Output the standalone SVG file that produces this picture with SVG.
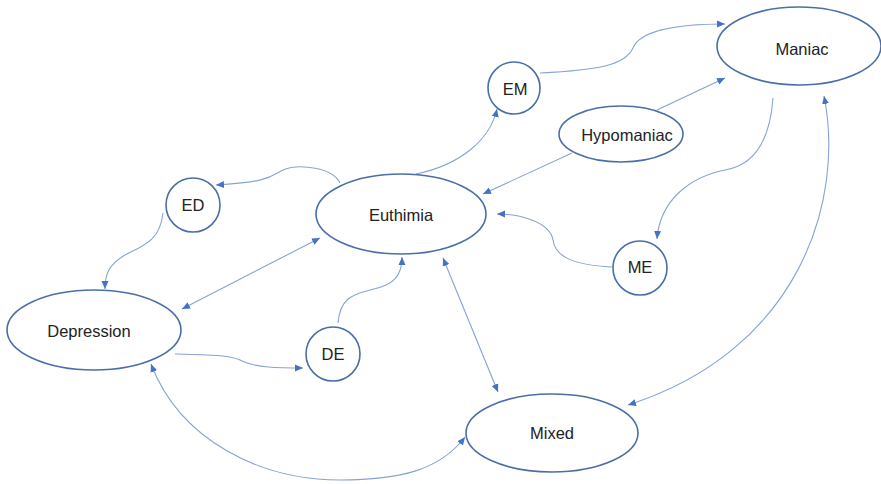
<svg xmlns="http://www.w3.org/2000/svg" width="881" height="484" viewBox="0 0 881 484">
<style>
.node{fill:#fff;stroke:#4a6ea8;stroke-width:1.6}
.lbl{font-family:"Liberation Sans",Arial,sans-serif;font-size:16.5px;fill:#222;text-anchor:middle;dominant-baseline:central}
.edge{fill:none;stroke:#86a4d4;stroke-width:1.1}
</style>
<defs>
<marker id="ah" markerUnits="userSpaceOnUse" markerWidth="9" markerHeight="8" refX="8" refY="4" orient="auto-start-reverse">
<path d="M0,0.5 L8,4 L0,7.5 Z" fill="#4472c4"/>
</marker>
</defs>
<rect width="881" height="484" fill="#fff"/>
<g id="connectors">
<path class="edge" d="M540,73 C600,70 625,65 633,48 C640,30 680,24 725,24" marker-end="url(#ah)"/>
<path class="edge" d="M657,110 L725,78" marker-end="url(#ah)"/>
<path class="edge" d="M572,153 L483,194" marker-end="url(#ah)"/>
<path class="edge" d="M416,174 C460,165 490,140 497,109" marker-end="url(#ah)"/>
<path class="edge" d="M773,98 C770,140 755,165 725,170 C690,177 660,200 657,239" marker-end="url(#ah)"/>
<path class="edge" d="M824,96 C845,200 800,350 628,405" marker-start="url(#ah)" marker-end="url(#ah)"/>
<path class="edge" d="M612,267 C570,265 555,255 553,240 C550,222 520,214 497,214" marker-end="url(#ah)"/>
<path class="edge" d="M443,258 L498,392" marker-start="url(#ah)" marker-end="url(#ah)"/>
<path class="edge" d="M340,183 C333,168 300,163 283,170 C270,177 268,182 216,185" marker-end="url(#ah)"/>
<path class="edge" d="M163,213 C160,240 145,245 125,255 C108,265 105,275 105,289" marker-end="url(#ah)"/>
<path class="edge" d="M182,309 L320,238" marker-start="url(#ah)" marker-end="url(#ah)"/>
<path class="edge" d="M175,354 C210,355 230,355 240,360 C255,368 280,368 303,368" marker-end="url(#ah)"/>
<path class="edge" d="M338,323 C340,300 350,295 370,290 C395,285 402,275 402,257" marker-end="url(#ah)"/>
<path class="edge" d="M151,364 C180,440 260,480 340,480 C400,480 440,470 465,437" marker-start="url(#ah)" marker-end="url(#ah)"/>
</g>
<g id="maniac"><ellipse class="node" cx="799" cy="46" rx="82" ry="39"/><text class="lbl" x="802" y="49">Maniac</text></g>
<g id="em"><circle class="node" cx="514" cy="88" r="26"/><text class="lbl" x="515" y="89">EM</text></g>
<g id="hypomaniac"><ellipse class="node" cx="621" cy="134" rx="62" ry="28"/><text class="lbl" x="627" y="135">Hypomaniac</text></g>
<g id="euthimia"><ellipse class="node" cx="401" cy="214" rx="85" ry="40"/><text class="lbl" x="401" y="215">Euthimia</text></g>
<g id="ed"><circle class="node" cx="193" cy="205" r="27"/><text class="lbl" x="193" y="205">ED</text></g>
<g id="depression"><ellipse class="node" cx="94" cy="330" rx="87" ry="40"/><text class="lbl" x="89" y="331">Depression</text></g>
<g id="de"><circle class="node" cx="333" cy="354" r="27"/><text class="lbl" x="333" y="354">DE</text></g>
<g id="me"><circle class="node" cx="640" cy="268" r="27"/><text class="lbl" x="640" y="267">ME</text></g>
<g id="mixed"><ellipse class="node" cx="552" cy="433" rx="86" ry="39"/><text class="lbl" x="552" y="433">Mixed</text></g>
</svg>
